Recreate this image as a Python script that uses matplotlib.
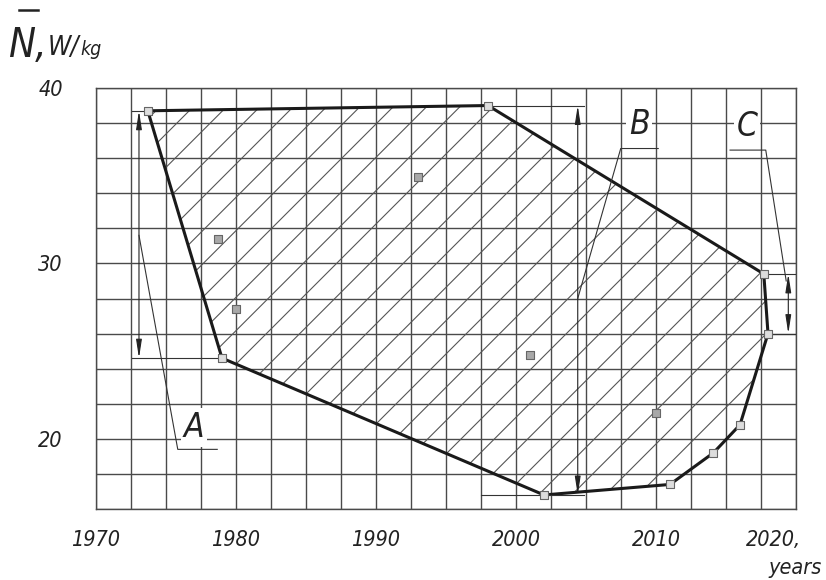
import matplotlib
matplotlib.use("Agg")
import matplotlib.pyplot as plt
from matplotlib import font_manager
from matplotlib.lines import Line2D
from matplotlib.patches import Polygon
import numpy as np

# Envelope (outer) points: year, specific power N (W/kg)
hull_years = [1973.7, 1998.0, 2017.7, 2018.0, 2016.0, 2014.1, 2011.0, 2002.0, 1979.0]
hull_power = [38.7, 39.0, 29.4, 26.0, 20.8, 19.2, 17.4, 16.8, 24.6]

# Points lying inside the envelope
inner_years = [1978.7, 1980.0, 1993.0, 2001.0, 2010.0]
inner_power = [31.4, 27.4, 34.9, 24.8, 21.5]

x_ticks = [1970, 1980, 1990, 2000, 2010, 2020]
x_labels = ["1970", "1980", "1990", "2000", "2010", ""]
y_ticks = [20, 30, 40]
y_labels = ["20", "30", "40"]


def is_narrow(f):
    st = f.stretch
    if isinstance(st, str):
        return "condensed" in st or "Narrow" in f.name or "Condensed" in f.name
    return st < 500 or "Narrow" in f.name or "Condensed" in f.name


# look for a condensed face, the lettering on the drawing is narrow
cands = [f for f in font_manager.fontManager.ttflist if is_narrow(f)]
cands.sort(key=lambda f: (f.style == "normal", "Mono" in f.name, f.weight != 400))
if cands:
    FP = dict(fontproperties=font_manager.FontProperties(fname=cands[0].fname))
    k = 1.0
else:
    FP = dict(family="DejaVu Sans", style="italic")
    k = 0.85


def tp(size):
    d = dict(FP)
    if "fontproperties" in d:
        p = d["fontproperties"].copy()
        p.set_size(size)
        d["fontproperties"] = p
    else:
        d["fontsize"] = size
    return d


plt.rcParams["hatch.linewidth"] = 0.8
plt.rcParams["hatch.color"] = "#555555"

W, H = 826, 580
fig = plt.figure(figsize=(W / 100, H / 100), dpi=100)
ax = fig.add_axes([96 / W, 1 - 509 / H, 700 / W, 421 / H])
ax.set_xlim(1970, 2020)
ax.set_ylim(16, 40)

# grid: 2.5 years by 2 W/kg
grid_c = "#4a4a4a"
lab_size = 15.5 * k
ax.set_xticks(x_ticks)
ax.set_xticks(np.arange(1970, 2020.1, 2.5), minor=True)
ax.set_yticks(y_ticks)
ax.set_yticks(np.arange(16, 40.1, 2), minor=True)
ax.set_xticklabels(x_labels, color="#222222", **tp(lab_size))
ax.set_yticklabels(y_labels, color="#222222", **tp(lab_size))
ax.grid(which="both", color=grid_c, lw=1.0)
ax.tick_params(which="both", length=0)
ax.tick_params(axis="x", pad=15)
ax.tick_params(axis="y", pad=24)
for sp in ax.spines.values():
    sp.set_color(grid_c)
    sp.set_linewidth(1.0)

# hatched envelope
pts = np.column_stack([hull_years, hull_power])
ax.add_patch(Polygon(pts, closed=True, facecolor="none", edgecolor="#555555",
                     hatch="/", lw=0, zorder=2))
ax.plot(hull_years + hull_years[:1], hull_power + hull_power[:1],
        color="#1a1a1a", lw=2.2, zorder=4)
ax.scatter(hull_years, hull_power, marker="s", s=32, facecolor="#dddddd",
           edgecolor="#666666", lw=0.8, zorder=5)
ax.scatter(inner_years, inner_power, marker="s", s=32, facecolor="#a8a8a8",
           edgecolor="#666666", lw=0.8, zorder=5)

thin = dict(color="#333333", lw=0.8, zorder=4)
arr = dict(arrowstyle="<|-|>,head_length=1.1,head_width=0.17", color="#222222",
           lw=0.8, shrinkA=0, shrinkB=0)


def dimension(x, i_top, i_bot, ext_left, ext_right, letter, leader, text_xy):
    y_top, y_bot = hull_power[i_top], hull_power[i_bot]
    ax.plot([ext_left[0], ext_right[0]], [y_top, y_top], **thin)
    ax.plot([ext_left[1], ext_right[1]], [y_bot, y_bot], **thin)
    ax.annotate("", xy=(x, y_top), xytext=(x, y_bot), arrowprops=arr, zorder=4)
    ax.plot(*leader, **thin)
    ax.text(*text_xy, letter, ha="center", va="center", color="#222222", zorder=6,
            bbox=dict(facecolor="white", edgecolor="none", pad=2), **tp(24 * k))


# A: spread of the early designs
dimension(1973.07, 0, 8, (1972.6, 1972.6), (1973.7, 1979.0), "A",
          ([1973.07, 1975.84, 1978.66], [31.6, 19.4, 19.4]), (1977.0, 20.65))
# B: overall spread
dimension(2004.41, 1, 7, (1998.0, 1997.5), (2004.86, 2004.86), "B",
          ([2004.41, 2007.48, 2010.16], [28.0, 36.55, 36.55]), (2008.8, 37.9))
# C: spread of the latest designs
dimension(2019.45, 2, 3, (2017.7, 2018.0), (2019.93, 2019.93), "C",
          ([2019.3, 2017.84, 2015.29], [29.0, 36.46, 36.46]), (2016.5, 37.8))

# last year label with comma, unit below
ax.annotate("2020,", xy=(2020, 0), xycoords=("data", "axes fraction"),
            xytext=(3.5, -15), textcoords="offset points", ha="right", va="top",
            color="#222222", **tp(lab_size))
fig.text(822 / W, 1 - 574 / H, "years", ha="right", va="baseline",
         color="#222222", **tp(lab_size))

# axis title: N with a bar, W/kg -- pieces placed one after another
renderer = fig.canvas.get_renderer()
x_px = 8
pieces = [("N,", 29 * k, 57), ("W/", 19 * k, 55), ("kg", 14 * k, 55)]
for txt, size, base in pieces:
    t = fig.text(x_px / W, 1 - base / H, txt, ha="left", va="baseline",
                 color="#222222", **tp(size))
    x_px = t.get_window_extent(renderer).x1 + 1
fig.add_artist(Line2D([19 / W, 38 / W], [1 - 10 / H, 1 - 10 / H],
                      color="#222222", lw=1.8))

fig.savefig("out.png", dpi=100)
